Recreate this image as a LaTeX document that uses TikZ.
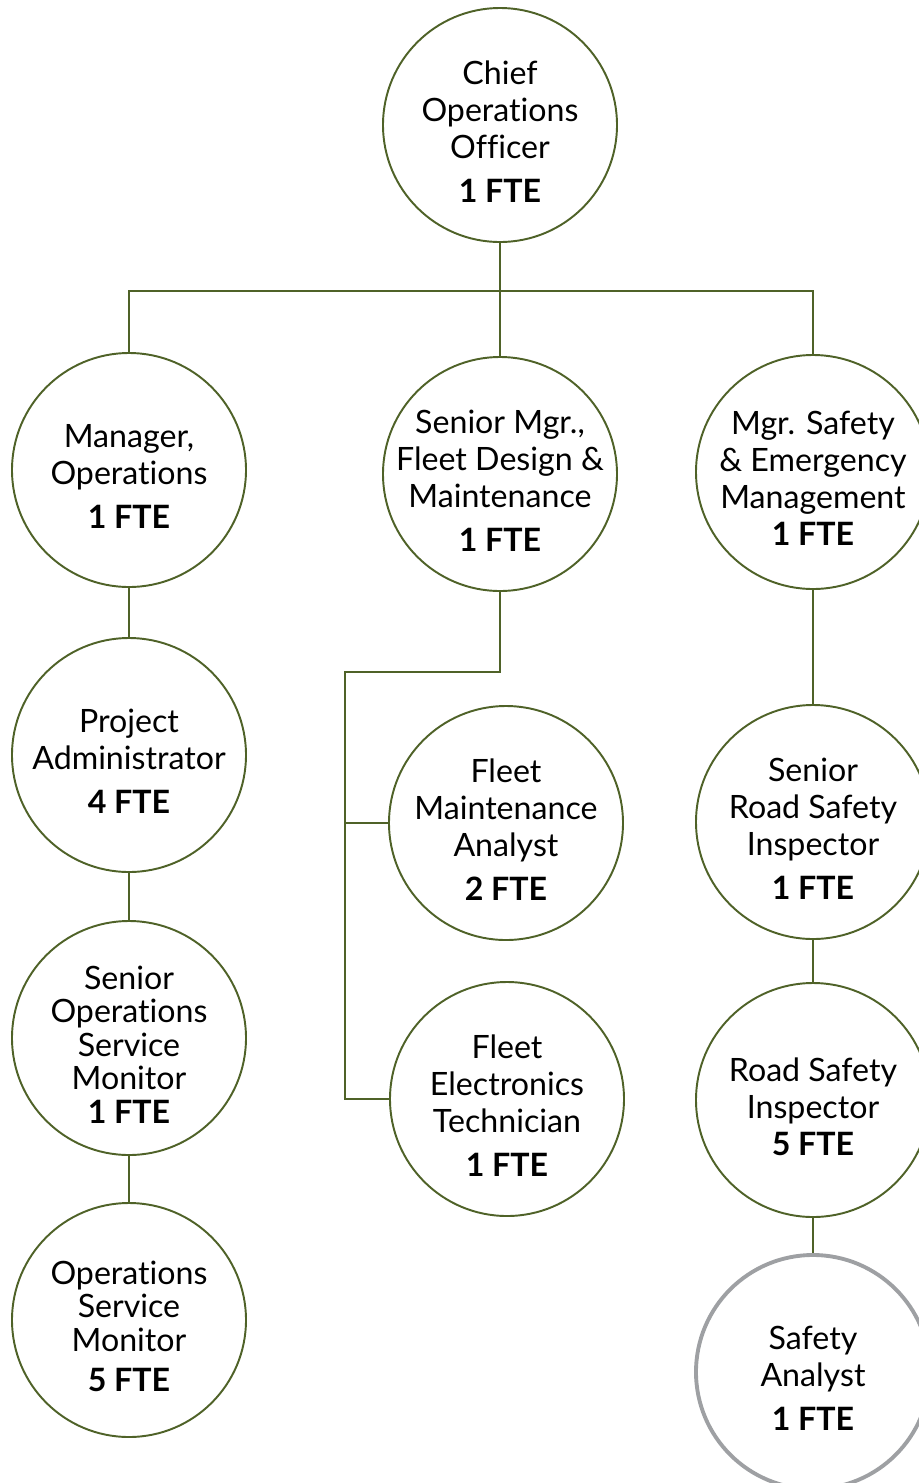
\documentclass[tikz,border=0pt]{standalone}
\usepackage{fontspec}
\setmainfont{Lato}[Ligatures=NoCommon]
\usetikzlibrary{calc}
\definecolor{olivegreen}{RGB}{79,98,40}
\definecolor{ringgray}{RGB}{158,160,163}
\tikzstyle{role}=[circle, draw=olivegreen, line width=1.1pt, fill=white, minimum size=4.68cm, inner sep=0pt]
\tikzstyle{vacant}=[role, draw=ringgray, line width=2.2pt]
\tikzstyle{words}=[align=center, yshift=-0.13cm, font=\fontsize{18.3}{21}\selectfont]
\tikzstyle{link}=[draw=olivegreen, line width=1.1pt]

\begin{document}
\begin{tikzpicture}
\useasboundingbox (0,0) rectangle (18.38,-29.66);
\node[role, label={[words]center:Chief\\Operations\\Officer\\[4pt]\textbf{1 FTE}}] (Chief) at (10.00,-2.50) {};
\node[role, label={[words]center:Manager,\\Operations\\[4pt]\textbf{1 FTE}}] (MgrOps) at (2.58,-9.40) {};
\node[role, label={[words]center:Senior Mgr.,\\Fleet Design \&\\Maintenance\\[4pt]\textbf{1 FTE}}] (SrMgr) at (10.00,-9.48) {};
\node[role, label={[words]center:Mgr. Safety\\\& Emergency\\Management\\\textbf{1 FTE}}] (MgrSafety) at (16.26,-9.44) {};
\node[role, label={[words]center:Project\\Administrator\\[4pt]\textbf{4 FTE}}] (ProjAdmin) at (2.58,-15.10) {};
\node[role, label={[words]center:Senior\\[-2pt]Operations\\[-2pt]Service\\[-2pt]Monitor\\[-2pt]\textbf{1 FTE}}] (SrMonitor) at (2.58,-20.76) {};
\node[role, label={[words]center:Operations\\[-2pt]Service\\[-2pt]Monitor\\[2pt]\textbf{5 FTE}}] (Monitor) at (2.58,-26.40) {};
\node[role, label={[words]center:Fleet\\Maintenance\\Analyst\\[4pt]\textbf{2 FTE}}] (FleetAnalyst) at (10.12,-16.46) {};
\node[role, label={[words]center:Fleet\\Electronics\\Technician\\[4pt]\textbf{1 FTE}}] (FleetTech) at (10.14,-21.98) {};
\node[role, label={[words]center:Senior\\Road Safety\\Inspector\\[4pt]\textbf{1 FTE}}] (SrInspector) at (16.26,-16.44) {};
\node[role, label={[words]center:Road Safety\\Inspector\\\textbf{5 FTE}}] (Inspector) at (16.26,-22.00) {};
\node[vacant, label={[words]center:Safety\\Analyst\\[4pt]\textbf{1 FTE}}] (SafetyAnalyst) at (16.26,-27.44) {};
\coordinate (Bus) at (10.00,-5.82);
\coordinate (Fork) at (6.90,-13.44);
\draw[link] (Chief) -- (SrMgr);
\draw[link] (MgrOps.north) |- (Bus) -| (MgrSafety.north);
\draw[link] (MgrOps) -- (ProjAdmin);
\draw[link] (ProjAdmin) -- (SrMonitor);
\draw[link] (SrMonitor) -- (Monitor);
\draw[link] (SrMgr.south) |- (Fork) |- (FleetTech.west);
\draw[link] (Fork |- FleetAnalyst.west) -- (FleetAnalyst.west);
\draw[link] (MgrSafety) -- (SrInspector);
\draw[link] (SrInspector) -- (Inspector);
\draw[link] (Inspector) -- (SafetyAnalyst);
\end{tikzpicture}
\end{document}
